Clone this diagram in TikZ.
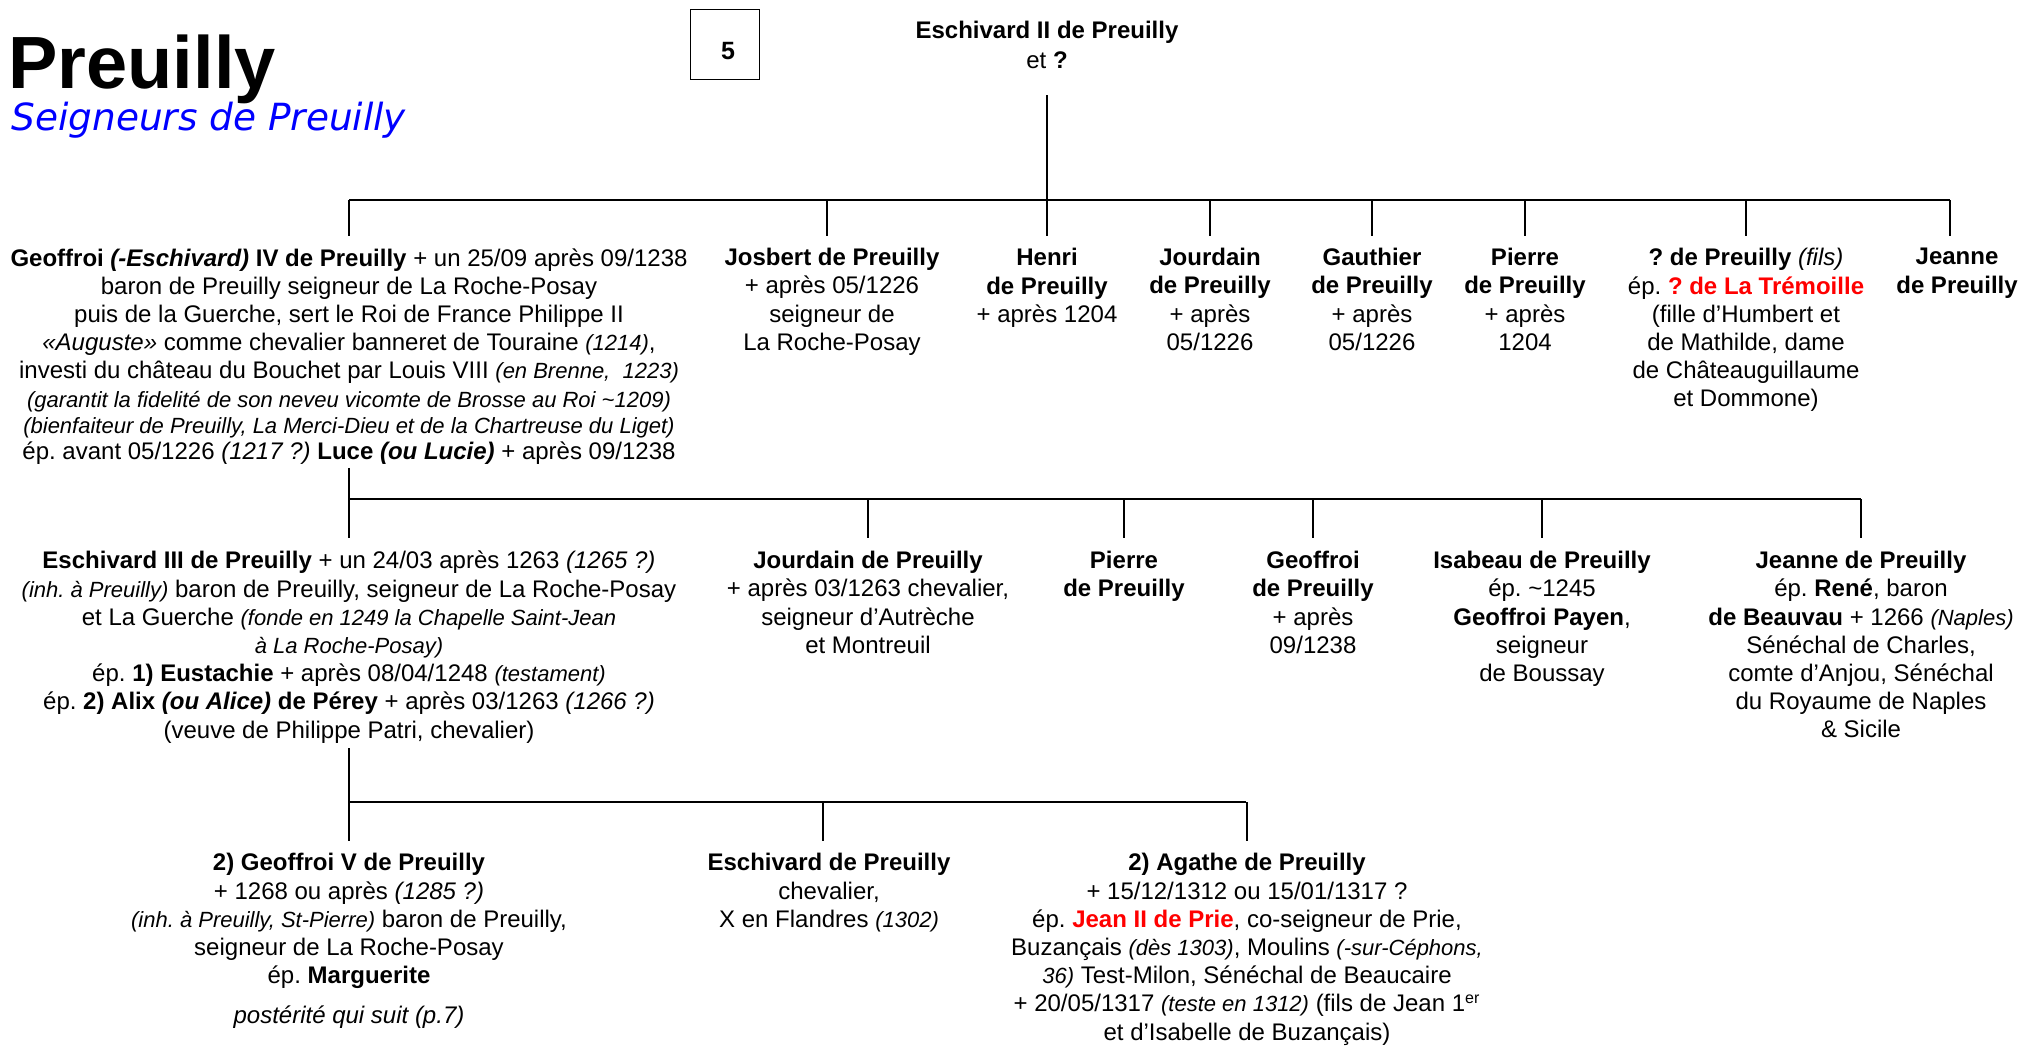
\documentclass[tikz,border=0pt]{standalone}
\usepackage{fontspec}
\setmainfont{Liberation Sans}
\newfontfamily\subfont{DejaVu Sans}
\definecolor{tred}{RGB}{255,0,0}
\definecolor{tblue}{RGB}{0,0,255}
\newcommand{\smi}{\fontsize{11}{14.1}\selectfont\itshape}
\frenchspacing
\begin{document}
\frenchspacing
\begin{tikzpicture}[x=0.5pt,y=-0.5pt,
  txt/.style={align=center,font=\fontsize{12}{14.1}\selectfont\frenchspacing,inner xsep=0pt,inner ysep=6pt,anchor=north},
  kidb/.style={txt,inner ysep=6.4pt},
  bus/.style={line width=1.35pt},
  drop/.style={line width=0.9pt},
  redn/.style={color=tred}]
\useasboundingbox (0,0) rectangle (2022,1045);
\fill[white] (0,0) rectangle (2022,1045);

% title
\node[anchor=base west,inner sep=0pt,font=\fontsize{37}{40}\selectfont\bfseries] (title) at (8,88) {Preuilly};
\node[anchor=base west,inner sep=0pt,font=\subfont\fontsize{18.7}{22}\selectfont\itshape,text=tblue] (subtitle) at (11,130) {Seigneurs de Preuilly};
\node[draw,line width=0.7pt,minimum width=34.5pt,minimum height=35pt,inner sep=0pt,anchor=north west] (pagebox) at (690,9) {};
\node[font=\fontsize{12.5}{14}\selectfont\bfseries,inner sep=0pt] (pagenum) at (728,51) {5};

% generation 0
\node[txt,inner ysep=0pt,font=\fontsize{12}{15}\selectfont] (p0) at (1047,21) {\textbf{Eschivard II de Preuilly}\\et \textbf{?}};
\coordinate (p0d) at (1047,95);

% generation 1
\node[txt] (g4) at (349,236) {\textbf{Geoffroi \textit{(-Eschivard)} IV de Preuilly} + un 25/09 après 09/1238\\
baron de Preuilly seigneur de La Roche-Posay\\
puis de la Guerche, sert le Roi de France Philippe II\\
\textit{«Auguste»} comme chevalier banneret de Touraine {\smi(1214)},\\
investi du château du Bouchet par Louis VIII {\smi(en Brenne,~ 1223)}\\
{\smi(garantit la fidelité de son neveu vicomte de Brosse au Roi \textasciitilde1209)}\\[-1pt]
{\smi(bienfaiteur de Preuilly, La Merci-Dieu et de la Chartreuse du Liget)}\\[-1pt]
ép. avant 05/1226 \textit{(1217 ?)} \textbf{Luce \textit{(ou Lucie)}} + après 09/1238};
\node[txt] (jos) at (832,236) {\textbf{Josbert de Preuilly}\\+ après 05/1226\\seigneur de\\La Roche-Posay};
\node[txt] (hen) at (1047,236) {\textbf{Henri}\\\textbf{de Preuilly}\\+ après 1204};
\node[txt] (jou) at (1210,236) {\textbf{Jourdain}\\\textbf{de Preuilly}\\+ après\\05/1226};
\node[txt] (gau) at (1372,236) {\textbf{Gauthier}\\\textbf{de Preuilly}\\+ après\\05/1226};
\node[txt] (pie) at (1525,236) {\textbf{Pierre}\\\textbf{de Preuilly}\\+ après\\1204};
\node[txt] (fil) at (1746,236) {\textbf{? de Preuilly} \textit{(fils)}\\ép. \textbf{\color{tred}? de La Trémoille}\\(fille d’Humbert et\\de Mathilde, dame\\de Châteauguillaume\\et Dommone)};
\node[txt] (jea) at (1957,236) {\textbf{Jeanne}\\\textbf{de Preuilly}};

% generation 2
\node[kidb] (e3) at (349,538) {\textbf{Eschivard III de Preuilly} + un 24/03 après 1263 \textit{(1265 ?)}\\
{\smi(inh. à Preuilly)} baron de Preuilly, seigneur de La Roche-Posay\\
et La Guerche {\smi(fonde en 1249 la Chapelle Saint-Jean}\\
{\smi à La Roche-Posay)}\\
ép. \textbf{1) Eustachie} + après 08/04/1248 {\smi(testament)}\\
ép. \textbf{2) Alix \textit{(ou Alice)} de Pérey} + après 03/1263 \textit{(1266 ?)}\\
(veuve de Philippe Patri, chevalier)};
\node[kidb] (jd) at (868,538) {\textbf{Jourdain de Preuilly}\\+ après 03/1263 chevalier,\\seigneur d’Autrèche\\et Montreuil};
\node[kidb] (pr) at (1124,538) {\textbf{Pierre}\\\textbf{de Preuilly}};
\node[kidb] (gf) at (1313,538) {\textbf{Geoffroi}\\\textbf{de Preuilly}\\+ après\\09/1238};
\node[kidb] (isa) at (1542,538) {\textbf{Isabeau de Preuilly}\\ép. \textasciitilde1245\\\textbf{Geoffroi Payen},\\seigneur\\de Boussay};
\node[kidb] (jn) at (1861,538) {\textbf{Jeanne de Preuilly}\\ép. \textbf{René}, baron\\\textbf{de Beauvau} + 1266 {\smi(Naples)}\\Sénéchal de Charles,\\comte d’Anjou, Sénéchal\\du Royaume de Naples\\\& Sicile};

% generation 3
\node[txt] (g5) at (349,841) {\textbf{2) Geoffroi V de Preuilly}\\+ 1268 ou après \textit{(1285 ?)}\\{\smi(inh. à Preuilly, St-Pierre)} baron de Preuilly,\\seigneur de La Roche-Posay\\ép. \textbf{Marguerite}\\[6pt]\textit{postérité qui suit (p.7)}};
\node[txt] (esc) at (829,841) {\textbf{Eschivard de Preuilly}\\chevalier,\\X en Flandres {\smi(1302)}};
\node[txt] (aga) at (1247,841) {\textbf{2) Agathe de Preuilly}\\+ 15/12/1312 ou 15/01/1317 ?\\ép. \textbf{\color{tred}Jean II de Prie}, co-seigneur de Prie,\\Buzançais {\smi(dès 1303)}, Moulins {\smi(-sur-Céphons,}\\{\smi 36)} Test-Milon, Sénéchal de Beaucaire\\+ 20/05/1317 {\smi(teste en 1312)} (fils de Jean 1\textsuperscript{er}\\et d’Isabelle de Buzançais)};

% buses
\coordinate (b1L) at (349,200);
\coordinate (b1R) at (1950,200);
\coordinate (b2L) at (349,499);
\coordinate (b2R) at (1861,499);
\coordinate (b3L) at (349,802);
\coordinate (b3R) at (1246,802);
\draw[bus] (b1L) -- (b1R);
\draw[bus] (b2L) -- (b2R);
\draw[bus] (b3L) -- (b3R);

% parent links
\draw[drop] (p0d) -- (p0d |- b1L);
\draw[drop] ([yshift=4.5pt]g4.south) -- (g4.south |- b2L);
\draw[drop] ([yshift=4pt]e3.south) -- (e3.south |- b3L);

% drops generation 1
\draw[drop] (g4.north |- b1L) -- (g4.north);
\draw[drop] ([xshift=-2.5pt]jos.north |- b1L) -- ([xshift=-2.5pt]jos.north);
\draw[drop] (hen.north |- b1L) -- (hen.north);
\draw[drop] (jou.north |- b1L) -- (jou.north);
\draw[drop] (gau.north |- b1L) -- (gau.north);
\draw[drop] (pie.north |- b1L) -- (pie.north);
\draw[drop] (fil.north |- b1L) -- (fil.north);
\draw[drop] ([xshift=-3.5pt]jea.north |- b1L) -- ([xshift=-3.5pt]jea.north);

% drops generation 2
\draw[drop] (e3.north |- b2L) -- (e3.north);
\draw[drop] (jd.north |- b2L) -- (jd.north);
\draw[drop] (pr.north |- b2L) -- (pr.north);
\draw[drop] (gf.north |- b2L) -- (gf.north);
\draw[drop] (isa.north |- b2L) -- (isa.north);
\draw[drop] (jn.north |- b2L) -- (jn.north);

% drops generation 3
\draw[drop] (g5.north |- b3L) -- (g5.north);
\draw[drop] ([xshift=-3pt]esc.north |- b3L) -- ([xshift=-3pt]esc.north);
\draw[drop] (aga.north |- b3L) -- (aga.north);
\end{tikzpicture}
\end{document}
